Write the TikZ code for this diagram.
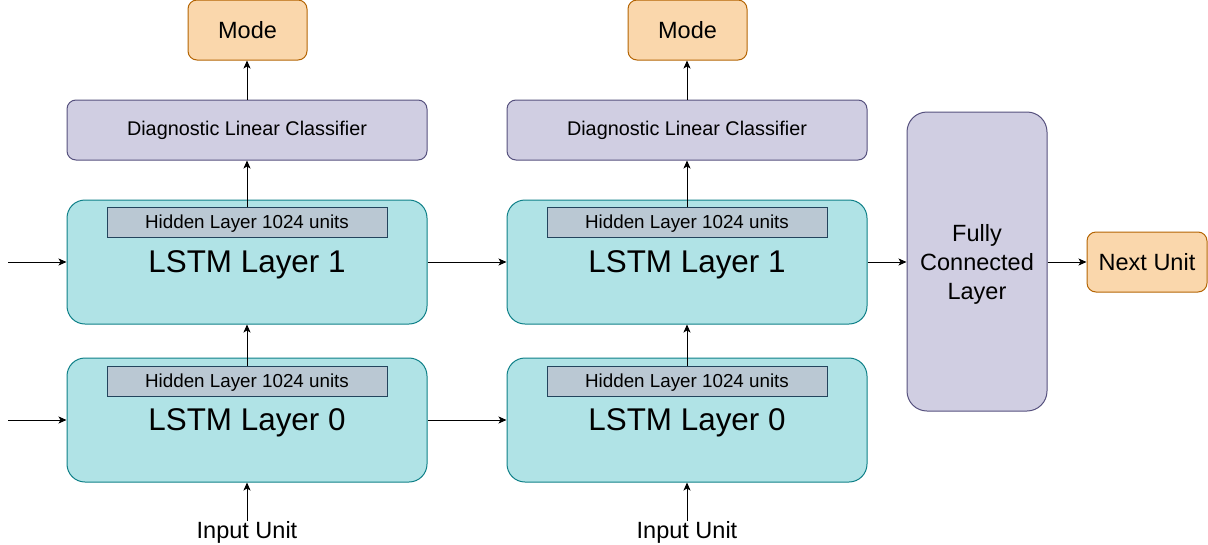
\documentclass[tikz,border=0pt]{standalone}
\usepackage{fontspec}
\setmainfont{Liberation Sans}
\usetikzlibrary{arrows.meta}
\definecolor{orFill}{HTML}{FAD7AC}
\definecolor{orLine}{HTML}{B46504}
\definecolor{puFill}{HTML}{D0CEE2}
\definecolor{puLine}{HTML}{56517E}
\definecolor{tlFill}{HTML}{B0E3E6}
\definecolor{tlLine}{HTML}{0E8088}
\definecolor{gyFill}{HTML}{BAC8D3}
\definecolor{gyLine}{HTML}{23445D}
\tikzset{
  box/.style={draw, line width=1pt, inner sep=0pt, align=center},
  modebox/.style={box, fill=orFill, draw=orLine, rounded corners=9pt, minimum width=119pt, minimum height=60pt, font=\fontsize{23.5}{28}\selectfont},
  diagbox/.style={box, fill=puFill, draw=puLine, rounded corners=9pt, minimum width=360pt, minimum height=60pt, font=\fontsize{19.8}{23}\selectfont},
  lstmbox/.style={box, fill=tlFill, draw=tlLine, rounded corners=18pt, minimum width=360pt, minimum height=124pt, text depth=0pt, font=\fontsize{31.4}{36}\selectfont},
  hidbox/.style={box, fill=gyFill, draw=gyLine, minimum width=280pt, minimum height=30pt, text depth=1pt, font=\fontsize{18.8}{22}\selectfont},
  fcbox/.style={box, fill=puFill, draw=puLine, rounded corners=20pt, minimum width=140pt, minimum height=299pt, font=\fontsize{23.5}{29}\selectfont},
  nextbox/.style={box, fill=orFill, draw=orLine, rounded corners=9pt, minimum width=120pt, minimum height=60pt, font=\fontsize{23.5}{28}\selectfont},
  plain/.style={inner sep=0pt, font=\fontsize{23.5}{28}\selectfont},
  arr/.style={-{Stealth[length=8pt,width=7pt,inset=2pt]}, line width=1pt}
}
\begin{document}
\begin{tikzpicture}[x=1pt,y=-1pt]
\useasboundingbox (0,0) rectangle (1208,544);
% left column
\node[modebox] (modeA) at (247.5,30) {Mode};
\node[diagbox] (diagA) at (247,130) {Diagnostic Linear Classifier};
\node[lstmbox] (l1A) at (247,262) {LSTM Layer 1};
\node[hidbox] (h1A) at (247,222) {Hidden Layer 1024 units};
\node[lstmbox] (l0A) at (247,420) {LSTM Layer 0};
\node[hidbox] (h0A) at (247,381) {Hidden Layer 1024 units};
\node[plain] (inA) at (247,532) {Input Unit};
% right column
\node[modebox] (modeB) at (687.5,30) {Mode};
\node[diagbox] (diagB) at (687,130) {Diagnostic Linear Classifier};
\node[lstmbox] (l1B) at (687,262) {LSTM Layer 1};
\node[hidbox] (h1B) at (687,222) {Hidden Layer 1024 units};
\node[lstmbox] (l0B) at (687,420) {LSTM Layer 0};
\node[hidbox] (h0B) at (687,381) {Hidden Layer 1024 units};
\node[plain] (inB) at (687,532) {Input Unit};
% right side
\node[fcbox, text depth=0pt] (fc) at (977,261.5) {Fully\\Connected\\Layer};
\node[nextbox] (next) at (1147,262) {Next Unit};
% free ends
\coordinate (s1) at (8,262);
\coordinate (s0) at (8,420);
% arrows
\draw[arr] (s1) -- (l1A.west);
\draw[arr] (s0) -- (l0A.west);
\draw[arr] (l1A.east) -- (l1B.west);
\draw[arr] (l0A.east) -- (l0B.west);
\draw[arr] (l1B.east) -- (fc.west |- l1B.east);
\draw[arr] (fc.east |- next.west) -- (next.west);
\draw[arr] (inA.north) -- (l0A.south);
\draw[arr] (inB.north) -- (l0B.south);
\draw[arr] (h0A.north) -- (l1A.south);
\draw[arr] (h0B.north) -- (l1B.south);
\draw[arr] (h1A.north) -- (diagA.south);
\draw[arr] (h1B.north) -- (diagB.south);
\draw[arr] (diagA.north) -- (modeA.south -| diagA.north);
\draw[arr] (diagB.north) -- (modeB.south -| diagB.north);
\end{tikzpicture}
\end{document}
